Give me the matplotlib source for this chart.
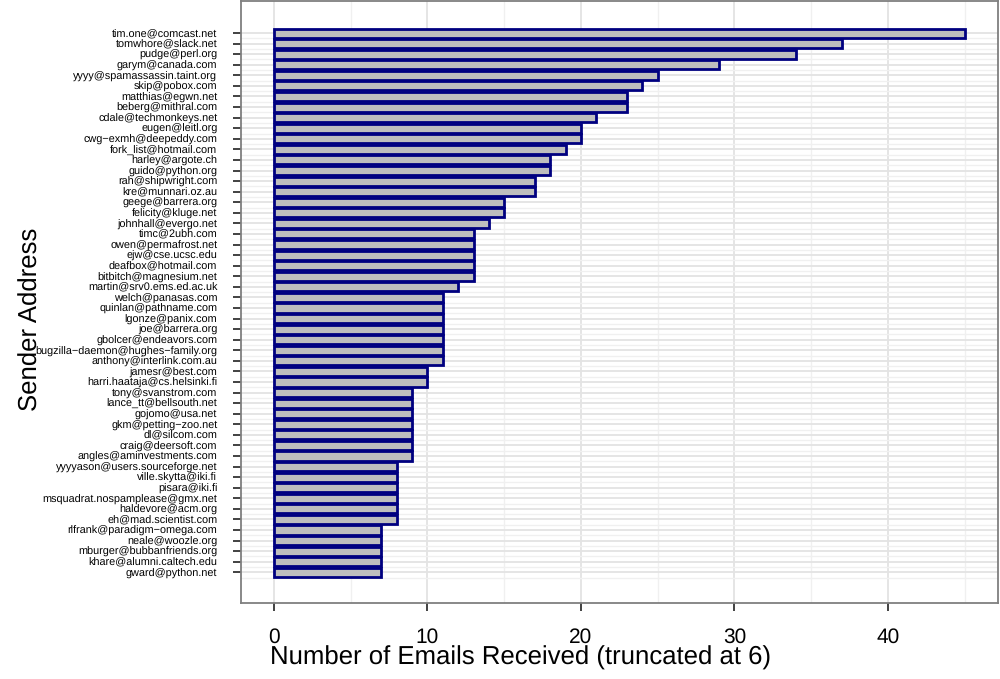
import numpy as np
import matplotlib
matplotlib.use("Agg")
import matplotlib.pyplot as plt
from matplotlib.ticker import MultipleLocator

senders = [
    "tim.one@comcast.net", "tomwhore@slack.net", "pudge@perl.org", "garym@canada.com",
    "yyyy@spamassassin.taint.org", "skip@pobox.com", "matthias@egwn.net", "beberg@mithral.com",
    "cdale@techmonkeys.net", "eugen@leitl.org", "cwg-exmh@deepeddy.com", "fork_list@hotmail.com",
    "harley@argote.ch", "guido@python.org", "rah@shipwright.com", "kre@munnari.oz.au",
    "geege@barrera.org", "felicity@kluge.net", "johnhall@evergo.net", "timc@2ubh.com",
    "owen@permafrost.net", "ejw@cse.ucsc.edu", "deafbox@hotmail.com", "bitbitch@magnesium.net",
    "martin@srv0.ems.ed.ac.uk", "welch@panasas.com", "quinlan@pathname.com", "lgonze@panix.com",
    "joe@barrera.org", "gbolcer@endeavors.com", "bugzilla-daemon@hughes-family.org",
    "anthony@interlink.com.au", "jamesr@best.com", "harri.haataja@cs.helsinki.fi",
    "tony@svanstrom.com", "lance_tt@bellsouth.net", "gojomo@usa.net", "gkm@petting-zoo.net",
    "dl@silcom.com", "craig@deersoft.com", "angles@aminvestments.com",
    "yyyyason@users.sourceforge.net", "ville.skytta@iki.fi", "pisara@iki.fi",
    "msquadrat.nospamplease@gmx.net", "haldevore@acm.org", "eh@mad.scientist.com",
    "rlfrank@paradigm-omega.com", "neale@woozle.org", "mburger@bubbanfriends.org",
    "khare@alumni.caltech.edu", "gward@python.net",
]
counts = [45, 37, 34, 29, 25, 24, 23, 23, 21, 20, 20, 19, 18, 18, 17, 17, 15, 15, 14,
          13, 13, 13, 13, 13, 12, 11, 11, 11, 11, 11, 11, 11, 10, 10,
          9, 9, 9, 9, 9, 9, 9, 8, 8, 8, 8, 8, 8, 7, 7, 7, 7, 7]
xticks = [0, 10, 20, 30, 40]

# R draws the hyphen as a minus sign
labels = [s.replace("-", "\u2212") for s in senders]

plt.rcParams['font.family'] = ['Liberation Sans', 'DejaVu Sans']
plt.rcParams['text.hinting'] = 'no_hinting'

fig = plt.figure(figsize=(10, 6.79), dpi=100)
ax = fig.add_axes([0.241, 0.112, 0.757, 0.8865])

pos = np.arange(1, len(counts) + 1)
ax.barh(pos, counts, height=0.86, color='#bebebe', edgecolor='#000080', linewidth=2.0, zorder=3)

ax.set_xlim(-2.15, 47.17)
ax.set_ylim(54.9, -2.03)

ax.xaxis.set_minor_locator(MultipleLocator(5))
ax.set_xticks(xticks)
ax.set_xticklabels([str(t) for t in xticks], fontsize=15)
ax.set_yticks(pos)
ax.set_yticks(pos + 0.5, minor=True)
ax.set_yticklabels(labels, fontsize=7.8)

ax.grid(True, which='major', color='#e3e3e3', linewidth=1.3, zorder=0)
ax.grid(True, which='minor', color='#f0f0f0', linewidth=1.0, zorder=0)

ax.tick_params(axis='y', which='major', length=6, width=1.3, color='#333333', pad=11, direction='out')
ax.tick_params(axis='x', which='major', length=6, width=1.3, color='#333333', pad=12, direction='out')
ax.tick_params(which='minor', length=0)

for sp in ax.spines.values():
    sp.set_color('#7f7f7f')
    sp.set_linewidth(1.3)

fig.text(0.521, 0.031, "Number of Emails Received (truncated at 6)", ha='center', va='center', fontsize=18.5)
fig.text(0.031, 0.53, "Sender Address", rotation=90, ha='center', va='center', fontsize=18.5)

fig.savefig("out.png", dpi=100)
